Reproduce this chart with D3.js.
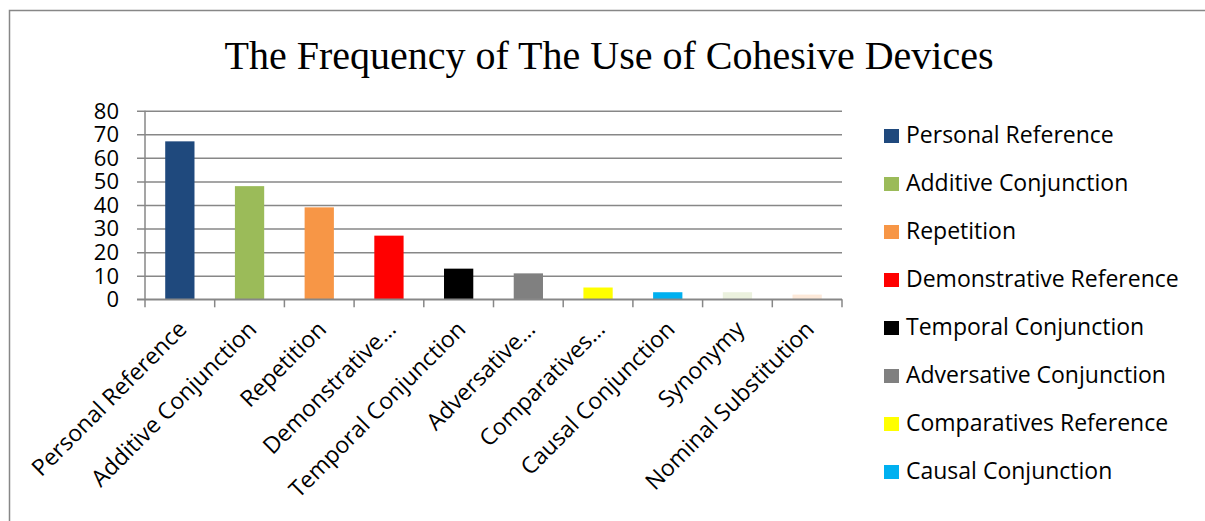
<!DOCTYPE html>
<html>
<head>
<meta charset="utf-8">
<script src="https://cdn.jsdelivr.net/npm/d3@7/dist/d3.min.js"></script>
<style>
  html, body { margin: 0; padding: 0; background: #fff; }
  svg { display: block; }
</style>
</head>
<body>
<svg id="chart" width="1205" height="521"></svg>
<script>
const categories = ["Personal Reference","Additive Conjunction","Repetition","Demonstrative Reference","Temporal Conjunction","Adversative Conjunction","Comparatives Reference","Causal Conjunction","Synonymy","Nominal Substitution"];
const axisLabels = ["Personal Reference","Additive Conjunction","Repetition","Demonstrative…","Temporal Conjunction","Adversative…","Comparatives…","Causal Conjunction","Synonymy","Nominal Substitution"];
const values = [67, 48, 39, 27, 13, 11, 5, 3, 3, 2];
const colors = ["#1F497D","#9BBB59","#F79646","#FF0000","#000000","#808080","#FFFF00","#00B0F0","#EBF1DE","#FDE9D9"];
const yTicks = [0, 10, 20, 30, 40, 50, 60, 70, 80];
const title = "The Frequency of The Use of Cohesive Devices";

const svg = d3.select("#chart");
const W = 1205, H = 521;
const sans = "'Open Sans', 'Noto Sans', sans-serif";
const gridColor = "#878787";

// outer chart border (left & top visible)
svg.append("rect").attr("x", 9.5).attr("y", 10.5).attr("width", W + 20).attr("height", H + 20)
  .attr("fill", "none").attr("stroke", gridColor).attr("stroke-width", 1.5);

svg.append("text").attr("x", 609).attr("y", 69)
  .attr("text-anchor", "middle").attr("font-family", "'Liberation Serif', 'Times New Roman', serif")
  .attr("font-size", 40).attr("fill", "#000").text(title);

const plot = { left: 145, right: 842, top: 110.7, bottom: 299.3 };

const x = d3.scaleBand().domain(categories).range([plot.left, plot.right]).padding(0);
const y = d3.scaleLinear().domain([0, 80]).range([plot.bottom, plot.top]);

// gridlines via axis
const yAxis = d3.axisLeft(y).tickValues(yTicks).tickSize(-(plot.right - plot.left)).tickPadding(0).tickFormat("");
const gy = svg.append("g").attr("transform", `translate(${plot.left},0)`).call(yAxis);
gy.select(".domain").remove();
gy.selectAll(".tick line").attr("stroke", gridColor).attr("stroke-width", 1.5).attr("x1", -8);

// y labels
svg.append("g").selectAll("text").data(yTicks).join("text")
  .attr("x", 119).attr("y", d => y(d)).attr("dy", "0.36em")
  .attr("text-anchor", "end").attr("font-family", sans).attr("font-size", 22).attr("fill", "#000")
  .text(d => d);

// bars
const barW = x.bandwidth() * 0.42;
svg.append("g").selectAll("rect").data(categories).join("rect")
  .attr("x", d => x(d) + (x.bandwidth() - barW) / 2)
  .attr("width", barW)
  .attr("y", (d, i) => y(values[i]))
  .attr("height", (d, i) => y(0) - y(values[i]))
  .attr("fill", (d, i) => colors[i]);

// y axis line
svg.append("line").attr("x1", plot.left).attr("x2", plot.left).attr("y1", plot.top).attr("y2", plot.bottom)
  .attr("stroke", gridColor).attr("stroke-width", 1.5);

// x axis
const xAxis = d3.axisBottom(x).tickSize(0).tickFormat("");
const gx = svg.append("g").attr("transform", `translate(0,${plot.bottom})`).call(xAxis);
gx.select(".domain").attr("stroke", gridColor).attr("stroke-width", 1.5).attr("d", `M${plot.left - 8},0H${plot.right}`);
const boundaries = categories.map(c => x(c)).concat([plot.right]);
gx.selectAll(".bnd").data(boundaries).join("line").attr("class", "bnd")
  .attr("x1", d => d).attr("x2", d => d).attr("y1", 0).attr("y2", 8)
  .attr("stroke", gridColor).attr("stroke-width", 1.5);

// x labels rotated
svg.append("g").selectAll("text").data(categories).join("text")
  .attr("transform", d => `translate(${x(d) + x.bandwidth() / 2 - 3},${plot.bottom + 20}) rotate(-45)`)
  .attr("text-anchor", "end").attr("dy", "0.7em")
  .attr("font-family", sans).attr("font-size", 23).attr("fill", "#000")
  .text((d, i) => axisLabels[i]);

// legend (only the entries that fit in the chart area are visible, as in the source)
const legendTop = 129, legendStep = 48;
const shown = categories.filter((d, i) => legendTop + i * legendStep + 24 < H);
const item = svg.append("g").selectAll("g").data(shown).join("g")
  .attr("transform", (d, i) => `translate(884,${legendTop + i * legendStep})`);
item.append("rect").attr("width", 15).attr("height", 14).attr("fill", (d, i) => colors[i]);
item.append("text").attr("x", 22).attr("y", 14).attr("font-family", sans).attr("font-size", 23)
  .attr("fill", "#000").text(d => d);
</script>
</body>
</html>
